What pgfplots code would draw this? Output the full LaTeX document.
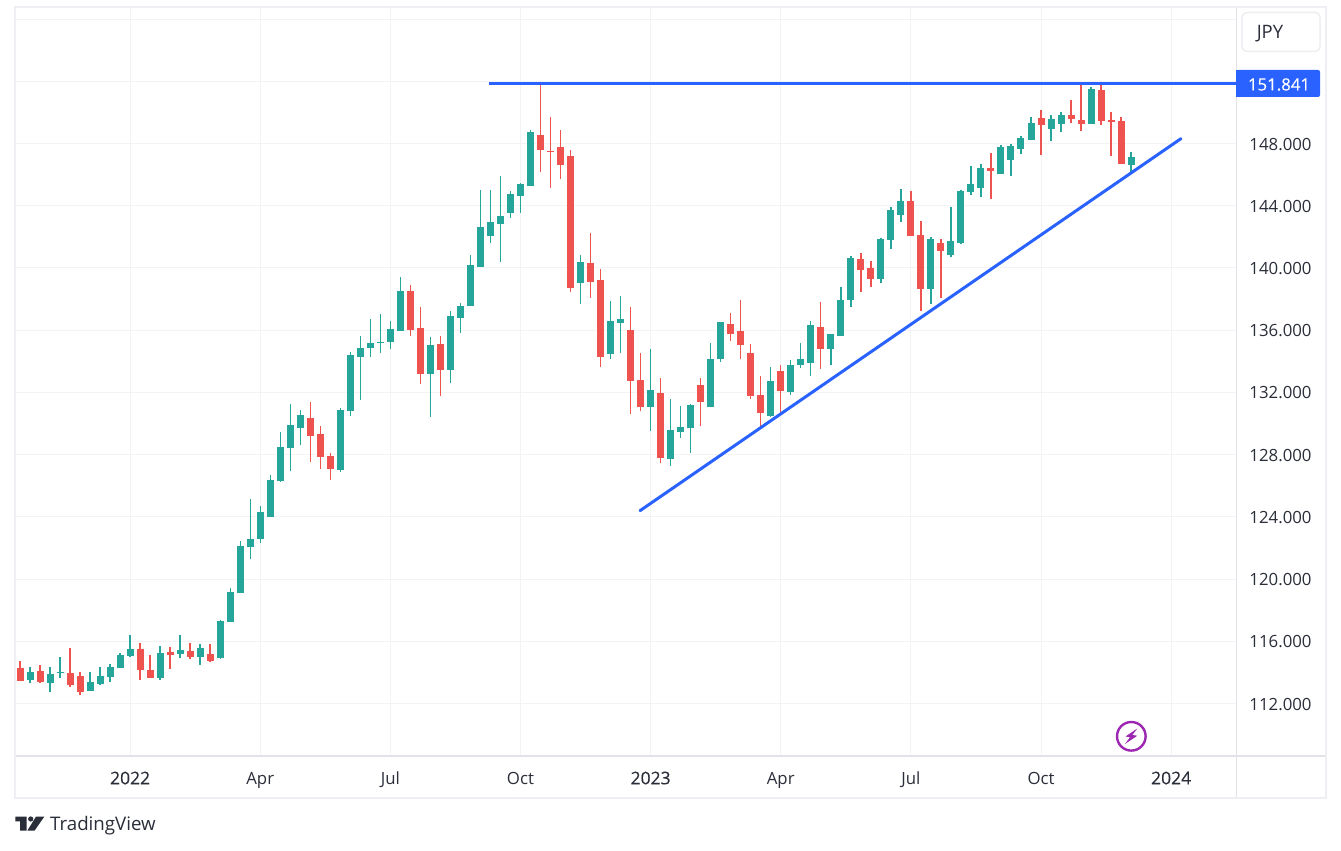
\documentclass[border=0pt]{standalone}
\usepackage{fontspec}
\usepackage{pgfplots}
\usepackage{pgfplotstable}
\pgfplotsset{compat=1.18}
\setmainfont{Open Sans}
\newfontfamily\yearfont[FakeBold=0.25]{Open Sans}
\newfontfamily\lblfont[FakeBold=0.2]{Open Sans}
\definecolor{up}{HTML}{26A69A}
\definecolor{down}{HTML}{EF5350}
\definecolor{lineblue}{HTML}{2962FF}
\definecolor{gridc}{HTML}{F3F3F5}
\definecolor{framec}{HTML}{EEEEF3}
\definecolor{sepc}{HTML}{E2E3E9}
\definecolor{txt}{HTML}{2A2E39}
\definecolor{bolt}{HTML}{9C27B0}

% weekly candles, i = week number
\pgfplotstableread{
i open high low close
1 113.51 114.35 113.32 114.03
3 113.32 114.35 112.74 113.90
4 113.96 114.99 113.64 114.03
7 112.80 114.03 112.80 113.38
8 113.25 114.35 113.19 113.77
9 113.70 114.54 113.38 114.35
10 114.28 115.25 114.28 115.12
11 115.05 116.40 114.99 115.50
14 113.64 115.70 113.51 115.25
16 115.18 116.40 114.93 115.44
18 114.99 115.83 114.48 115.57
20 114.93 117.37 114.86 117.30
21 117.24 119.43 117.24 119.17
22 119.10 122.45 119.10 122.13
23 122.06 125.15 121.29 122.58
24 122.58 124.70 122.32 124.31
25 123.99 126.69 123.99 126.37
26 126.30 129.45 126.24 128.49
27 128.43 131.25 126.95 129.90
28 129.71 130.87 128.62 130.55
32 127.01 131.00 126.88 130.87
33 130.80 134.60 130.48 134.40
34 134.28 135.63 131.51 134.85
35 134.85 136.72 134.28 135.18
36 135.18 137.04 134.53 135.24
37 135.24 136.59 134.79 136.08
38 135.95 139.42 135.95 138.52
41 133.18 135.56 130.42 135.05
43 133.44 137.23 132.60 136.91
44 136.78 137.75 135.82 137.55
45 137.55 140.83 137.55 140.19
46 140.06 145.01 140.06 142.63
47 142.05 145.01 141.60 142.95
48 142.83 145.91 140.38 143.34
49 143.53 144.95 143.21 144.75
50 144.63 145.46 143.53 145.40
51 145.27 148.87 145.27 148.74
56 139.03 140.83 137.68 140.38
59 134.47 137.88 134.15 136.59
60 136.46 138.20 134.53 136.72
63 131.06 134.79 129.52 132.15
65 127.72 131.58 127.27 129.58
66 129.45 131.13 129.07 129.78
67 129.71 131.25 128.10 131.19
69 131.06 135.18 131.06 134.15
70 134.15 136.53 133.95 136.53
75 130.48 133.63 130.42 132.73
77 132.03 134.08 131.83 133.76
78 133.76 135.18 133.57 134.15
79 133.89 136.59 133.05 136.33
81 134.79 135.75 133.76 135.75
82 135.63 138.78 135.63 137.94
83 137.94 140.77 137.49 140.64
86 139.29 141.93 139.03 141.86
87 141.80 143.92 141.22 143.73
88 143.40 145.08 142.95 144.30
91 138.65 141.99 137.68 141.86
93 140.83 143.92 140.70 141.73
94 141.60 145.01 141.54 144.95
95 144.88 146.55 144.69 145.40
96 145.14 146.68 144.56 146.43
98 146.04 147.90 146.04 147.78
99 146.94 147.97 145.91 147.84
100 147.65 148.48 147.33 148.35
101 148.23 149.70 148.23 149.32
103 148.93 149.83 148.16 149.58
104 149.25 150.03 148.74 149.83
107 149.25 151.63 149.25 151.50
111 146.62 147.45 146.17 147.13
}\upbars

\pgfplotstableread{
i open high low close
0 114.28 114.73 113.45 113.45
2 114.09 114.48 113.32 113.38
5 113.96 115.57 113.06 113.19
6 113.77 114.03 112.55 112.74
12 115.50 115.89 113.51 114.15
13 114.15 115.12 113.64 113.64
15 115.31 115.63 114.22 115.12
17 115.38 115.89 114.86 114.99
19 115.18 115.83 114.67 114.73
29 130.35 131.38 127.53 129.20
30 129.33 129.84 127.08 127.85
31 127.91 128.10 126.37 127.08
39 138.52 138.90 135.63 136.01
40 136.14 137.49 132.54 133.18
42 135.11 135.63 131.77 133.44
52 148.55 151.95 146.17 147.58
53 147.52 149.70 145.14 147.45
54 147.78 148.87 145.72 146.62
55 147.20 147.58 138.45 138.71
57 140.32 142.25 138.07 139.10
58 139.23 139.93 133.63 134.28
61 136.01 137.49 130.61 132.73
62 132.80 134.53 130.80 131.06
64 131.96 132.93 127.46 127.78
68 132.48 132.93 129.84 131.38
71 136.40 137.10 135.30 135.75
72 135.95 137.94 134.15 135.05
73 134.53 135.11 131.58 131.77
74 131.83 133.05 129.65 130.68
76 133.38 133.76 130.61 132.09
80 136.20 137.81 133.50 134.79
84 140.58 140.96 138.45 139.87
85 140.00 140.45 138.78 139.29
89 144.30 144.95 142.05 142.05
90 142.12 143.02 137.23 138.65
92 141.60 141.86 138.07 141.09
97 146.43 147.39 144.43 146.23
102 149.64 150.15 147.26 149.19
105 149.83 150.80 149.32 149.58
106 149.51 151.95 148.80 149.25
108 151.44 151.91 149.19 149.45
109 149.51 150.03 147.20 149.38
110 149.45 149.70 146.68 146.68
}\downbars

\begin{document}
\begin{tikzpicture}[x=1pt,y=1pt]
\path[use as bounding box,fill=white] (0,0) rectangle (1341,851);
\begin{axis}[
    at={(16pt,95pt)},anchor=south west,
    scale only axis,
    width=1220.5pt,height=748pt,
    xmin=-0.4,xmax=121.53,
    ymin=108.625,ymax=156.71,
    axis line style={draw=none},
    major tick length=0pt,
    grid=major,
    major grid style={gridc,line width=1pt},
    xtick={11,24,37,50,63,76,89,102,115},
    xticklabels={{\fontsize{17.5}{19}\selectfont\yearfont 2022},Apr,Jul,Oct,{\fontsize{17.5}{19}\selectfont\yearfont 2023},Apr,Jul,Oct,{\fontsize{17.5}{19}\selectfont\yearfont 2024}},
    ytick={112,116,120,124,128,132,136,140,144,148,152,156},
    yticklabels={112.000,116.000,120.000,124.000,128.000,132.000,136.000,140.000,144.000,148.000,,},
    yticklabel pos=right,
    tick label style={font=\fontsize{16.8}{18}\selectfont,text=txt},
    yticklabel style={anchor=center,xshift=44pt,yshift=-0.6pt},
    xticklabel style={anchor=base,yshift=-28.3pt},
    clip=true,
]
% wicks
\addplot[draw=none,mark=none,forget plot,error bars/.cd,y dir=plus,y explicit,error mark=none,
    error bar style={draw=up,line width=1.4pt}]
    table[x=i,y=low,y error plus expr=\thisrow{high}-\thisrow{low}] {\upbars};
\addplot[draw=none,mark=none,forget plot,error bars/.cd,y dir=plus,y explicit,error mark=none,
    error bar style={draw=down,line width=1.4pt}]
    table[x=i,y=low,y error plus expr=\thisrow{high}-\thisrow{low}] {\downbars};
% bodies
\addplot[draw=none,mark=none,forget plot,error bars/.cd,y dir=plus,y explicit,error mark=none,
    error bar style={draw=up,line width=7pt}]
    table[x=i,y=open,y error plus expr=\thisrow{close}-\thisrow{open}] {\upbars};
\addplot[draw=none,mark=none,forget plot,error bars/.cd,y dir=plus,y explicit,error mark=none,
    error bar style={draw=down,line width=7pt}]
    table[x=i,y=close,y error plus expr=\thisrow{open}-\thisrow{close}] {\downbars};
% drawn levels
\addplot[lineblue,line width=3pt] coordinates {(46.85,151.841) (121.53,151.841)};
\addplot[lineblue,line width=3pt,line cap=round] coordinates {(61.94,124.395) (115.98,148.31)};
\end{axis}
\begin{scope}[y=-1pt,yshift=851pt]
% frame
\draw[framec,line width=2.5pt] (15,7) rectangle (1326,798);
\draw[sepc,line width=1.2pt] (16,756) -- (1325,756);
\draw[sepc,line width=1.2pt] (1236.5,8) -- (1236.5,797);
% currency box and last price label
\draw[framec,line width=1.5pt,rounded corners=5pt] (1242,12.5) rectangle (1320,51.5);
\node[anchor=center,text=txt,font=\fontsize{18.5}{20}\selectfont] at (1270,33.5) {JPY};
\fill[lineblue,rounded corners=2pt] (1236,70) rectangle (1320,97);
\fill[lineblue] (1236,70) rectangle (1242,97);
\node[anchor=center,text=white,font=\fontsize{16.8}{18}\selectfont\lblfont] at (1279,84.5) {151.841};
% bolt icon
\draw[bolt,line width=2.4pt] (1131.3,736.3) circle (14.3);
\fill[bolt] (1137.3,728.5) -- (1125.5,736.5) -- (1130,737.2) -- (1125,744) -- (1137.3,735.7) -- (1132.3,735) -- cycle;
% logo
\fill[txt] (15.3,816.6) -- (26.7,816.6) -- (26.7,830.7) -- (20,830.7) -- (20,821.4) -- (15.3,821.4) -- cycle;
\fill[txt] (30.7,819) circle (2.6);
\fill[txt] (36,816.6) -- (44.3,816.6) -- (34.5,830.7) -- (27.3,830.7) -- cycle;
\node[anchor=base west,inner sep=0pt,text=txt,font=\fontsize{18.7}{20}\selectfont] at (50,831) {TradingView};
\end{scope}
\end{tikzpicture}
\end{document}
